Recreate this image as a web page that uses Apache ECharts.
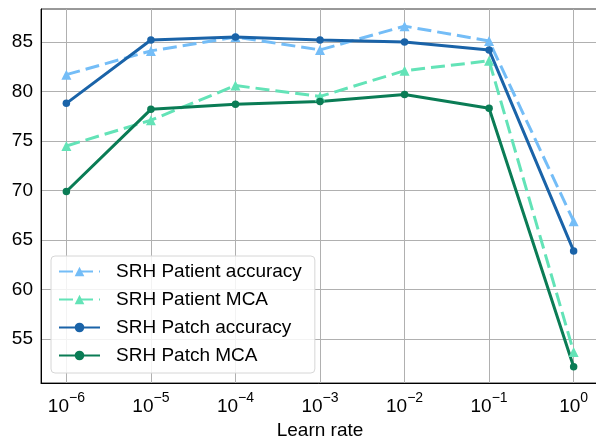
<!DOCTYPE html>
<html>
<head>
<meta charset="utf-8">
<script src="https://cdn.jsdelivr.net/npm/echarts@6/dist/echarts.min.js"></script>
<style>
  html, body { margin: 0; padding: 0; background: #fff; overflow: hidden; }
  #chart { width: 596px; height: 437px; }
</style>
</head>
<body>
<div id="chart"></div>
<script>
// learn rate exponents (10^x)
const lrExponents = [-6, -5, -4, -3, -2, -1, 0];
const yTicks = [55, 60, 65, 70, 75, 80, 85];

const patientAccuracy = [81.7, 84.1, 85.5, 84.2, 86.6, 85.1, 66.9];
const patientMca = [74.5, 77.1, 80.6, 79.5, 82.1, 83.1, 53.7];
const patchAccuracy = [78.8, 85.2, 85.5, 85.2, 85.0, 84.2, 63.9];
const patchMca = [69.9, 78.2, 78.7, 79.0, 79.7, 78.3, 52.2];

const pairs = vals => lrExponents.map((e, i) => [e, vals[i]]);

const font = '"Liberation Sans", Arial, sans-serif';

const myChart = echarts.init(document.getElementById('chart'));

function makeLine(name, vals, color, dashed) {
	return {
		name: name,
		type: 'line',
		data: pairs(vals),
		symbol: dashed ? 'triangle' : 'circle',
		symbolSize: dashed ? 10 : 7.5,
		showSymbol: true,
		color: color,
		itemStyle: { color: color },
		lineStyle: { color: color, width: 3, type: dashed ? [14, 6] : 'solid' },
		emphasis: { disabled: true },
		animation: false
	};
}

const option = {
	animation: false,
	grid: { left: 41, top: 9, width: 558, height: 374, outerBoundsMode: 'none', show: true, borderColor: '#333', borderWidth: 1, backgroundColor: 'transparent' },
	xAxis: {
		type: 'value',
		min: -6.3,
		max: 0.3,
		name: 'Learn rate',
		nameLocation: 'middle',
		nameGap: 35,
		nameTextStyle: { fontSize: 19, color: '#000', fontFamily: font },
		axisLine: { show: true, onZero: false, lineStyle: { color: '#000', width: 1 } },
		axisTick: { show: false, customValues: lrExponents },
		axisLabel: {
			customValues: lrExponents,
			margin: 8,
			color: '#000',
			fontFamily: font,
			formatter: v => v === 0 ? '{b|10}{s|0}' : '{b|10}{s|\u2212' + Math.abs(v) + '}',
			rich: {
				b: { fontSize: 19, fontFamily: font, color: '#000' },
				s: { fontSize: 14, fontFamily: font, color: '#000', padding: [0, 0, 17, 0] }
			}
		},
		splitLine: { show: true, lineStyle: { color: '#b0b0b0', width: 1 } }
	},
	yAxis: {
		type: 'value',
		min: 50.56,
		max: 88.33,
		axisLine: { show: true, onZero: false, lineStyle: { color: '#000', width: 1 } },
		axisTick: { show: false, customValues: yTicks },
		axisLabel: { customValues: yTicks, margin: 8, fontSize: 19, color: '#000', fontFamily: font },
		splitLine: { show: true, lineStyle: { color: '#b0b0b0', width: 1 } }
	},
	legend: {
		orient: 'vertical',
		left: 51,
		top: 256,
		itemWidth: 41,
		itemHeight: 12,
		itemGap: 9,
		padding: [6, 13, 8, 7],
		backgroundColor: 'rgba(255,255,255,0.85)',
		borderColor: '#d6d6d6',
		borderWidth: 1,
		borderRadius: 4,
		textStyle: { fontSize: 19, color: '#000', fontFamily: font, padding: [0, 0, 0, 11] },
		data: ['SRH Patient accuracy', 'SRH Patient MCA', 'SRH Patch accuracy', 'SRH Patch MCA']
	},
	series: [
		makeLine('SRH Patient accuracy', patientAccuracy, '#74bdf7', true),
		makeLine('SRH Patient MCA', patientMca, '#63e3b7', true),
		makeLine('SRH Patch accuracy', patchAccuracy, '#1a63a8', false),
		makeLine('SRH Patch MCA', patchMca, '#0a7c55', false)
	]
};

myChart.setOption(option);
</script>
</body>
</html>
